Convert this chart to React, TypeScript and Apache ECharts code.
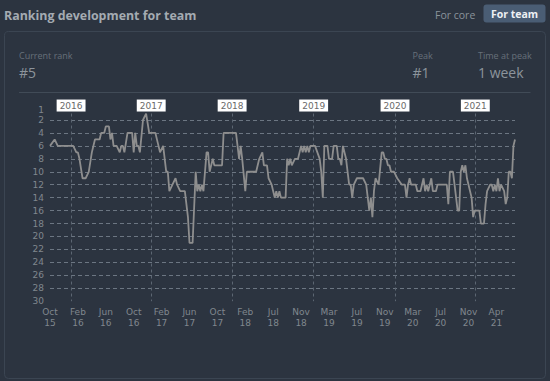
import React, { useEffect, useRef } from 'react';
import * as echarts from 'echarts';

// x-axis tick labels (every 18 weeks, starting at the first week)
const monthLabels = ['Oct', 'Feb', 'Jun', 'Oct', 'Feb', 'Jun', 'Oct', 'Feb', 'Jul', 'Nov', 'Mar', 'Jul', 'Nov', 'Mar', 'Jul', 'Nov', 'Apr'];
const yearLabels = ['15', '16', '16', '16', '17', '17', '17', '18', '18', '18', '19', '19', '19', '20', '20', '20', '21'];

// year separators (week index of Jan 1)
const yearNames = ['2016', '2017', '2018', '2019', '2020', '2021'];
const yearWeeks = [13.6, 65.3, 117.5, 170.1, 222.6, 274.4];

// ranking vertices: week index and rank
const weeks = [
  0, 3, 5, 15, 17, 18, 19, 21, 23, 25, 27, 29, 32, 33, 35, 36, 38, 39, 40, 41,
  43, 45, 46, 47, 48, 50, 53, 54, 55, 56, 57, 58, 60, 62, 64, 68, 70, 71, 73, 75,
  76, 77, 79, 81, 82, 84, 87, 89, 90, 92, 94, 95, 96, 97, 98, 99, 101, 102, 103, 104,
  105, 106, 111, 112, 120, 122, 123, 124, 126, 127, 133, 135, 137, 138, 140, 141, 143, 144, 145, 146,
  147, 148, 149, 152, 153, 154, 155, 156, 158, 160, 161, 162, 163, 164, 165, 166, 167, 168, 171, 174,
  175, 176, 177, 179, 180, 182, 183, 185, 186, 187, 188, 189, 190, 191, 192, 193, 194, 195, 196, 198,
  202, 204, 205, 206, 207, 208, 209, 210, 212, 214, 215, 216, 217, 218, 219, 220, 222, 224, 227, 229,
  230, 231, 232, 233, 236, 237, 239, 240, 241, 242, 243, 244, 245, 246, 247, 249, 250, 256, 257, 258,
  260, 261, 262, 263, 264, 265, 266, 267, 268, 269, 270, 272, 273, 274, 277, 278, 280, 281, 282, 284,
  285, 286, 287, 288, 289, 290, 291, 293, 294, 295, 296, 297, 298, 299, 300,
];
const ranks = [
  6, 5, 6, 6, 7, 7, 8, 11, 11, 10, 7, 5, 5, 4, 4, 3, 3, 5, 4, 6,
  6, 7, 6, 6, 7, 4, 4, 7, 4, 6, 6, 7, 2, 1, 4, 4, 6, 7, 6, 10,
  10, 13, 12, 11, 12, 13, 13, 17, 21, 21, 10, 13, 12, 13, 12, 13, 7, 7, 10, 9,
  8, 9, 9, 4, 4, 8, 6, 8, 13, 10, 10, 8, 7, 9, 9, 11, 12, 13, 14, 13,
  14, 13, 14, 14, 8, 9, 8, 9, 8, 8, 7, 6, 7, 6, 7, 6, 7, 6, 6, 8,
  10, 14, 6, 6, 8, 8, 6, 6, 8, 8, 9, 6, 7, 8, 10, 12, 12, 14, 12, 11,
  11, 12, 14, 16, 14, 17, 13, 11, 12, 7, 7, 8, 8, 9, 9, 10, 10, 11, 12, 12,
  14, 12, 11, 12, 12, 13, 13, 12, 11, 13, 12, 13, 12, 11, 13, 13, 12, 12, 15, 10,
  10, 12, 14, 16, 16, 10, 9, 10, 9, 11, 12, 14, 17, 16, 16, 18, 18, 15, 13, 12,
  12, 13, 12, 13, 11, 13, 12, 13, 15, 14, 10, 10, 11, 6, 5,
];

const BG = '#2c3440';
const AXIS_TEXT = '#80878e';
const GRID = '#6c7682';

export default function App() {
  const ref = useRef<HTMLDivElement>(null);

  useEffect(() => {
    const chart = echarts.init(ref.current!, null, { renderer: 'svg' });
    const data = weeks.map((w, i) => [w, ranks[i]]);

    const text = (t: string, x: number, y: number, font: string, fill: string, align = 'left') => ({
      type: 'text',
      silent: true,
      style: { text: t, x, y, font, fill, align, verticalAlign: 'middle', textAlign: align, textVerticalAlign: 'middle' },
    });

    const option: any = {
      animation: false,
      backgroundColor: BG,
      graphic: [
        {
          type: 'rect',
          silent: true,
          shape: { x: 4.5, y: 31.5, width: 541, height: 347, r: 4 },
          style: { fill: BG, stroke: '#3b4552', lineWidth: 1 },
          z: -10,
        },
        text('Ranking development for team', 4, 15, 'bold 12.4px "Open Sans"', '#a4abb2'),
        text('For core', 435, 14.5, '10.5px "Open Sans"', '#8a939b'),
        {
          type: 'rect',
          silent: true,
          shape: { x: 483.5, y: 4.5, width: 62, height: 18, r: 3 },
          style: { fill: '#4a5d74' },
        },
        text('For team', 514.5, 14, 'bold 10.5px "Open Sans"', '#eef1f4', 'center'),
        text('Current rank', 19, 55, '9px "Open Sans"', '#67707a'),
        text('#5', 19, 72.5, '14px "Open Sans"', '#8c949c'),
        text('Peak', 412.5, 55, '9px "Open Sans"', '#67707a'),
        text('#1', 412.5, 72.5, '14px "Open Sans"', '#8c949c'),
        text('Time at peak', 478, 55, '9px "Open Sans"', '#67707a'),
        text('1 week', 478, 72.5, '14px "Open Sans"', '#8c949c'),
        {
          type: 'line',
          silent: true,
          shape: { x1: 19, y1: 92.5, x2: 530.5, y2: 92.5 },
          style: { stroke: '#414b57', lineWidth: 1 },
        },
      ],
      grid: { left: 50, right: 35, top: 107.06, bottom: 79.8, containLabel: false },
      xAxis: {
        type: 'value',
        min: 0,
        max: 300,
        interval: 18,
        axisLine: { show: false },
        axisTick: { show: false },
        splitLine: { show: false },
        axisLabel: {
          margin: 6,
          color: AXIS_TEXT,
          fontFamily: 'DejaVu Sans',
          fontSize: 9,
          lineHeight: 10.5,
          formatter: (v: number) => {
            const i = v / 18;
            return Number.isInteger(i) && i < monthLabels.length ? `${monthLabels[i]}\n${yearLabels[i]}` : '';
          },
        },
      },
      yAxis: [
        {
          type: 'value',
          inverse: true,
          min: 0,
          max: 30,
          interval: 2,
          axisLine: { show: false },
          axisTick: { show: false },
          splitLine: {
            show: true,
            showMinLine: false,
            showMaxLine: false,
            lineStyle: { color: GRID, type: [4, 3], width: 1 },
          },
          axisLabel: {
            margin: 6,
            color: AXIS_TEXT,
            fontFamily: 'DejaVu Sans',
            fontSize: 9,
            formatter: (v: number) => (v === 0 ? '' : String(v)),
          },
        },
        {
          type: 'value',
          inverse: true,
          min: 0,
          max: 30,
          interval: 1,
          position: 'left',
          axisLine: { show: false },
          axisTick: { show: false },
          splitLine: { show: false },
          axisLabel: {
            margin: 6,
            color: AXIS_TEXT,
            fontFamily: 'DejaVu Sans',
            fontSize: 9,
            lineHeight: 8,
            verticalAlign: 'bottom',
            formatter: (v: number) => (v === 1 ? '1' : ''),
          },
        },
      ],
      series: [
        {
          type: 'line',
          data,
          yAxisIndex: 0,
          showSymbol: false,
          symbol: 'none',
          lineStyle: { color: '#8e8e8e', width: 1.8 },
          z: 5,
          markLine: {
            silent: true,
            symbol: 'none',
            lineStyle: { color: '#5c6672', type: [3, 3], width: 1 },
            label: {
              show: true,
              position: 'start',
              distance: 2,
              formatter: '{b}',
              backgroundColor: '#ffffff',
              color: '#6a6a6a',
              fontFamily: 'DejaVu Sans',
              fontSize: 9,
              padding: [2, 3, 1, 3],
            },
            emphasis: { disabled: true },
            data: yearWeeks.map((w, i) => [
              { coord: [w, 1], name: yearNames[i] },
              { coord: [w, 30] },
            ]),
          },
        },
      ],
    };

    chart.setOption(option);
    return () => chart.dispose();
  }, []);

  return <div ref={ref} style={{ position: 'fixed', left: 0, top: 0, width: 550, height: 381 }} />;
}
